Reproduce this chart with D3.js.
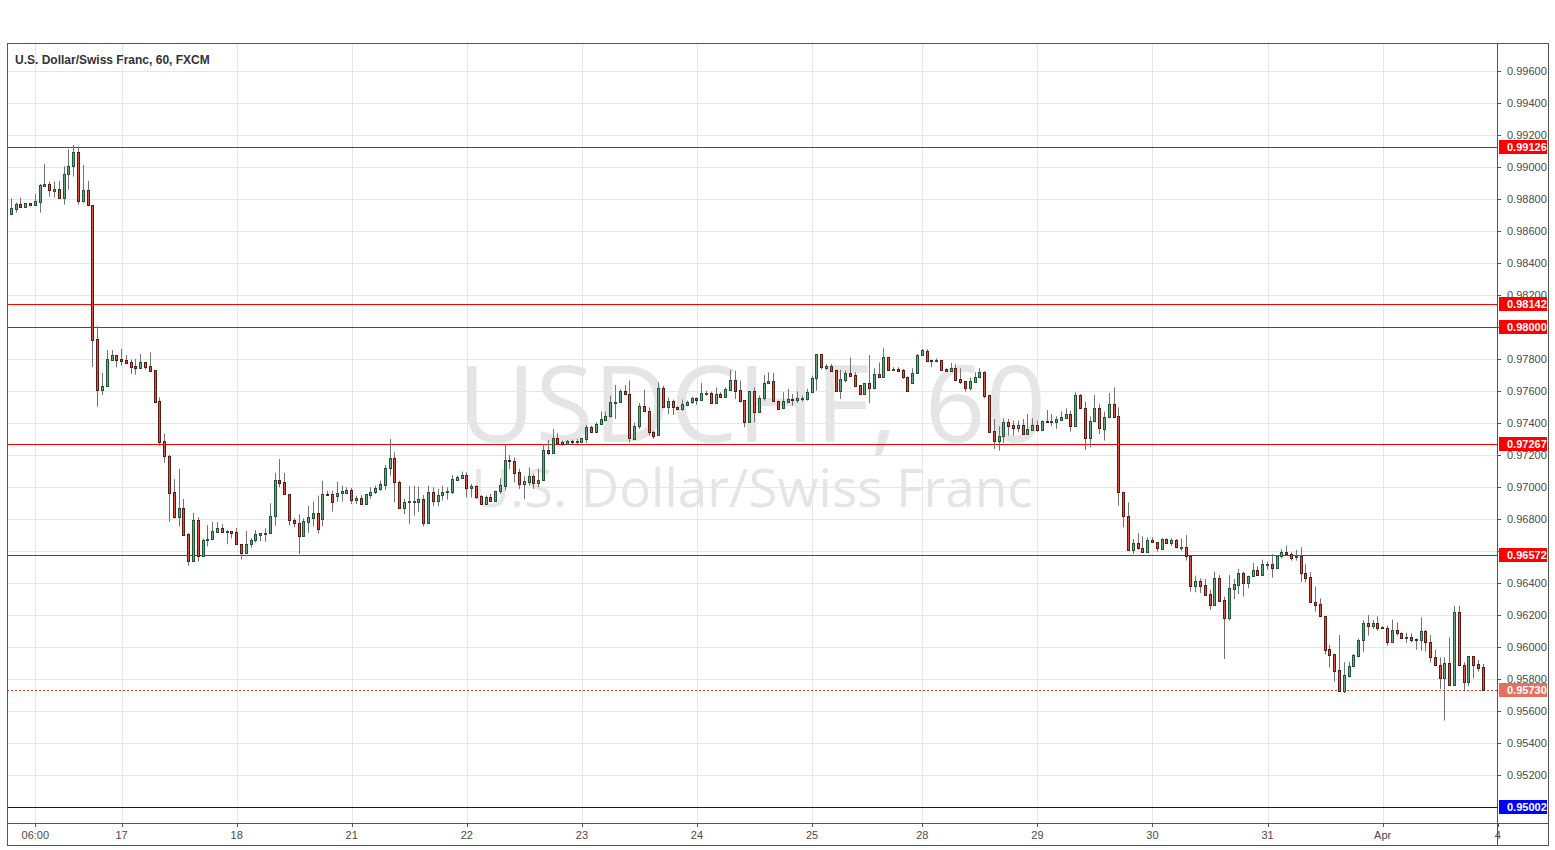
<!DOCTYPE html>
<html><head><meta charset="utf-8">
<script src="https://cdn.jsdelivr.net/npm/d3@7"></script>
<style>body{margin:0;background:#fff;overflow:hidden}svg{display:block}</style>
</head><body><svg id="c" width="1555" height="850"></svg>
<script>
// ---------- DATA (USD/CHF, 60 min, FXCM) ----------
const openP=[0.98708,0.98740,0.98767,0.98752,0.98773,0.98760,0.98783,0.98883,0.98892,0.98852,0.98860,0.98808,0.98954,0.99004,0.99092,0.98790,0.98854,0.98760,0.97923,0.97608,
0.97629,0.97796,0.97823,0.97800,0.97794,0.97781,0.97754,0.97746,0.97779,0.97754,0.97729,0.97535,0.97285,0.97192,0.96967,0.96815,0.96867,0.96704,0.96535,0.96792,
0.96571,0.96667,0.96673,0.96721,0.96742,0.96717,0.96725,0.96717,0.96642,0.96590,0.96642,0.96667,0.96702,0.96706,0.96710,0.96817,0.97042,0.97029,0.96954,0.96794,
0.96773,0.96696,0.96783,0.96808,0.96838,0.96798,0.96956,0.96954,0.96946,0.96960,0.96965,0.96979,0.96921,0.96931,0.96892,0.96952,0.96967,0.96990,0.97015,0.97117,
0.97179,0.97029,0.96871,0.96904,0.96908,0.96908,0.96923,0.96777,0.96967,0.96915,0.96950,0.96967,0.96971,0.97044,0.97058,0.97075,0.96992,0.97004,0.96942,0.96892,
0.96935,0.96915,0.96973,0.97008,0.97169,0.97160,0.97092,0.97017,0.97033,0.97071,0.97023,0.97044,0.97231,0.97210,0.97304,0.97281,0.97267,0.97288,0.97283,0.97283,
0.97300,0.97373,0.97346,0.97392,0.97421,0.97442,0.97525,0.97529,0.97598,0.97581,0.97300,0.97379,0.97504,0.97473,0.97342,0.97325,0.97617,0.97498,0.97535,0.97498,
0.97485,0.97515,0.97529,0.97554,0.97546,0.97583,0.97587,0.97527,0.97579,0.97565,0.97608,0.97669,0.97606,0.97544,0.97408,0.97600,0.97470,0.97554,0.97648,0.97660,
0.97540,0.97492,0.97533,0.97550,0.97546,0.97548,0.97550,0.97592,0.97679,0.97831,0.97746,0.97754,0.97731,0.97602,0.97671,0.97712,0.97700,0.97637,0.97579,0.97650,
0.97621,0.97706,0.97690,0.97810,0.97735,0.97738,0.97729,0.97685,0.97648,0.97712,0.97825,0.97852,0.97794,0.97790,0.97794,0.97735,0.97727,0.97742,0.97673,0.97660,
0.97621,0.97658,0.97685,0.97717,0.97575,0.97350,0.97290,0.97321,0.97404,0.97387,0.97367,0.97387,0.97329,0.97358,0.97387,0.97358,0.97412,0.97406,0.97408,0.97421,
0.97431,0.97456,0.97379,0.97575,0.97492,0.97304,0.97410,0.97492,0.97363,0.97435,0.97519,0.97442,0.96971,0.96817,0.96608,0.96650,0.96619,0.96592,0.96667,0.96654,
0.96613,0.96675,0.96650,0.96669,0.96621,0.96623,0.96567,0.96383,0.96410,0.96387,0.96329,0.96265,0.96429,0.96292,0.96179,0.96363,0.96390,0.96463,0.96398,0.96442,
0.96481,0.96452,0.96517,0.96519,0.96496,0.96567,0.96592,0.96579,0.96560,0.96567,0.96460,0.96435,0.96281,0.96267,0.96192,0.95987,0.95954,0.95854,0.95727,0.95821,
0.95879,0.95946,0.96044,0.96148,0.96133,0.96148,0.96125,0.96117,0.96029,0.96108,0.96088,0.96054,0.96060,0.96048,0.96042,0.96102,0.96029,0.95935,0.95888,0.95804,
0.95898,0.95763,0.96217,0.95888,0.95783,0.95942,0.95892,0.95873];
const highP=[0.98804,0.98779,0.98810,0.98773,0.98773,0.98831,0.98894,0.99019,0.98908,0.98910,0.98913,0.99004,0.99113,0.99138,0.99129,0.99013,0.98913,0.98760,0.98004,0.97713,
0.97856,0.97856,0.97825,0.97863,0.97825,0.97796,0.97800,0.97831,0.97779,0.97842,0.97729,0.97560,0.97335,0.97202,0.97050,0.97113,0.96925,0.96712,0.96838,0.96810,
0.96679,0.96762,0.96783,0.96781,0.96767,0.96729,0.96725,0.96744,0.96642,0.96725,0.96681,0.96731,0.96710,0.96742,0.96898,0.97088,0.97175,0.97088,0.96954,0.96806,
0.96829,0.96804,0.96883,0.96908,0.96946,0.97038,0.96977,0.96977,0.97033,0.97008,0.96998,0.96994,0.96946,0.96950,0.96954,0.96998,0.97008,0.97040,0.97137,0.97300,
0.97217,0.97040,0.96925,0.97004,0.97008,0.97004,0.96950,0.97008,0.96998,0.96988,0.97008,0.96998,0.97075,0.97071,0.97096,0.97092,0.97019,0.97012,0.96950,0.96946,
0.96956,0.96977,0.97054,0.97269,0.97200,0.97185,0.97113,0.97067,0.97123,0.97081,0.97113,0.97269,0.97294,0.97362,0.97337,0.97290,0.97294,0.97296,0.97300,0.97304,
0.97387,0.97383,0.97404,0.97473,0.97471,0.97571,0.97637,0.97612,0.97637,0.97665,0.97404,0.97525,0.97608,0.97498,0.97352,0.97654,0.97633,0.97560,0.97546,0.97504,
0.97546,0.97540,0.97563,0.97560,0.97650,0.97602,0.97596,0.97623,0.97592,0.97623,0.97731,0.97727,0.97665,0.97544,0.97600,0.97623,0.97571,0.97700,0.97717,0.97712,
0.97540,0.97592,0.97613,0.97581,0.97598,0.97571,0.97613,0.97696,0.97831,0.97831,0.97769,0.97769,0.97733,0.97733,0.97727,0.97810,0.97717,0.97637,0.97648,0.97825,
0.97742,0.97779,0.97867,0.97810,0.97748,0.97748,0.97738,0.97692,0.97742,0.97831,0.97862,0.97862,0.97796,0.97804,0.97794,0.97742,0.97775,0.97769,0.97742,0.97660,
0.97685,0.97717,0.97742,0.97723,0.97575,0.97425,0.97379,0.97429,0.97425,0.97415,0.97415,0.97425,0.97456,0.97429,0.97415,0.97415,0.97481,0.97456,0.97442,0.97473,
0.97492,0.97477,0.97592,0.97581,0.97533,0.97442,0.97575,0.97519,0.97471,0.97587,0.97623,0.97498,0.96971,0.96904,0.96675,0.96712,0.96692,0.96685,0.96685,0.96654,
0.96679,0.96679,0.96679,0.96675,0.96679,0.96700,0.96567,0.96446,0.96429,0.96425,0.96358,0.96471,0.96450,0.96315,0.96450,0.96425,0.96488,0.96471,0.96446,0.96525,
0.96504,0.96546,0.96533,0.96581,0.96575,0.96612,0.96633,0.96592,0.96606,0.96623,0.96519,0.96467,0.96379,0.96304,0.96192,0.96013,0.95954,0.96075,0.95904,0.95908,
0.95956,0.96054,0.96165,0.96200,0.96169,0.96192,0.96129,0.96133,0.96171,0.96154,0.96092,0.96088,0.96085,0.96054,0.96185,0.96108,0.96075,0.95983,0.95935,0.95935,
0.96060,0.96258,0.96258,0.95904,0.95942,0.95942,0.95919,0.95894];
const lowP=[0.98700,0.98715,0.98744,0.98752,0.98754,0.98760,0.98715,0.98877,0.98815,0.98808,0.98802,0.98765,0.98858,0.98940,0.98765,0.98777,0.98760,0.97750,0.97502,0.97575,
0.97629,0.97788,0.97748,0.97758,0.97777,0.97706,0.97702,0.97746,0.97733,0.97725,0.97527,0.97258,0.97152,0.96783,0.96804,0.96752,0.96702,0.96508,0.96535,0.96535,
0.96567,0.96629,0.96673,0.96717,0.96717,0.96642,0.96679,0.96642,0.96546,0.96585,0.96621,0.96652,0.96660,0.96658,0.96710,0.96758,0.96998,0.96954,0.96760,0.96748,
0.96581,0.96696,0.96713,0.96754,0.96710,0.96754,0.96950,0.96846,0.96908,0.96908,0.96960,0.96894,0.96894,0.96888,0.96888,0.96925,0.96956,0.96977,0.96981,0.97071,
0.96904,0.96869,0.96831,0.96769,0.96821,0.96846,0.96754,0.96777,0.96879,0.96879,0.96915,0.96921,0.96956,0.97040,0.97050,0.96935,0.96935,0.96925,0.96892,0.96892,
0.96915,0.96915,0.96956,0.96977,0.97113,0.97029,0.96988,0.96925,0.97008,0.96988,0.96998,0.97040,0.97200,0.97206,0.97269,0.97258,0.97263,0.97267,0.97267,0.97279,
0.97275,0.97342,0.97342,0.97387,0.97415,0.97435,0.97425,0.97525,0.97579,0.97279,0.97300,0.97363,0.97467,0.97321,0.97300,0.97321,0.97492,0.97456,0.97450,0.97483,
0.97477,0.97504,0.97519,0.97513,0.97546,0.97571,0.97523,0.97527,0.97560,0.97560,0.97608,0.97550,0.97529,0.97373,0.97404,0.97404,0.97470,0.97540,0.97644,0.97540,
0.97488,0.97488,0.97533,0.97508,0.97525,0.97533,0.97540,0.97592,0.97602,0.97733,0.97733,0.97727,0.97596,0.97550,0.97654,0.97692,0.97633,0.97575,0.97575,0.97523,
0.97613,0.97685,0.97685,0.97733,0.97727,0.97727,0.97675,0.97596,0.97644,0.97710,0.97821,0.97790,0.97748,0.97779,0.97733,0.97721,0.97723,0.97671,0.97644,0.97596,
0.97602,0.97654,0.97679,0.97554,0.97342,0.97238,0.97227,0.97275,0.97321,0.97321,0.97342,0.97329,0.97325,0.97352,0.97346,0.97358,0.97408,0.97379,0.97363,0.97415,
0.97425,0.97346,0.97379,0.97492,0.97233,0.97248,0.97404,0.97331,0.97290,0.97429,0.97440,0.96883,0.96748,0.96608,0.96581,0.96608,0.96592,0.96592,0.96654,0.96596,
0.96608,0.96644,0.96633,0.96617,0.96602,0.96540,0.96346,0.96342,0.96337,0.96327,0.96233,0.96265,0.96290,0.95925,0.96165,0.96300,0.96331,0.96315,0.96367,0.96442,
0.96452,0.96446,0.96483,0.96433,0.96496,0.96554,0.96571,0.96540,0.96540,0.96404,0.96404,0.96279,0.96221,0.96192,0.95954,0.95873,0.95783,0.95727,0.95712,0.95810,
0.95873,0.95935,0.95967,0.96071,0.96113,0.96100,0.96113,0.96008,0.96029,0.96071,0.96054,0.96025,0.96029,0.95983,0.95977,0.95971,0.95904,0.95888,0.95738,0.95540,
0.95763,0.95763,0.95883,0.95721,0.95754,0.95804,0.95846,0.95730];
const closeP=[0.98742,0.98767,0.98752,0.98773,0.98760,0.98788,0.98885,0.98894,0.98854,0.98862,0.98808,0.98954,0.99004,0.99092,0.98790,0.98854,0.98760,0.97921,0.97608,0.97629,
0.97798,0.97825,0.97796,0.97790,0.97777,0.97752,0.97746,0.97779,0.97752,0.97725,0.97533,0.97283,0.97192,0.96965,0.96815,0.96867,0.96702,0.96535,0.96792,0.96571,
0.96667,0.96675,0.96723,0.96742,0.96717,0.96725,0.96715,0.96642,0.96590,0.96642,0.96669,0.96704,0.96710,0.96710,0.96817,0.97042,0.97027,0.96954,0.96792,0.96773,
0.96696,0.96788,0.96810,0.96838,0.96738,0.96954,0.96950,0.96908,0.96963,0.96973,0.96981,0.96921,0.96931,0.96892,0.96954,0.96971,0.96994,0.97019,0.97119,0.97181,
0.97029,0.96869,0.96904,0.96910,0.96912,0.96923,0.96777,0.96967,0.96915,0.96950,0.96967,0.96973,0.97050,0.97060,0.97075,0.96992,0.97006,0.96940,0.96892,0.96935,
0.96915,0.96973,0.97012,0.97169,0.97160,0.97088,0.97017,0.97035,0.97071,0.97023,0.97044,0.97231,0.97210,0.97304,0.97275,0.97267,0.97288,0.97283,0.97290,0.97304,
0.97373,0.97346,0.97394,0.97425,0.97446,0.97529,0.97533,0.97598,0.97579,0.97304,0.97379,0.97508,0.97473,0.97342,0.97321,0.97619,0.97498,0.97535,0.97498,0.97485,
0.97519,0.97529,0.97554,0.97546,0.97585,0.97587,0.97527,0.97579,0.97565,0.97612,0.97669,0.97602,0.97540,0.97408,0.97600,0.97467,0.97554,0.97650,0.97662,0.97540,
0.97488,0.97537,0.97550,0.97546,0.97556,0.97554,0.97596,0.97679,0.97831,0.97748,0.97758,0.97727,0.97602,0.97675,0.97712,0.97696,0.97633,0.97579,0.97648,0.97621,
0.97706,0.97690,0.97810,0.97733,0.97740,0.97727,0.97685,0.97598,0.97712,0.97827,0.97856,0.97790,0.97788,0.97794,0.97733,0.97725,0.97744,0.97671,0.97658,0.97621,
0.97660,0.97685,0.97717,0.97571,0.97346,0.97290,0.97321,0.97404,0.97383,0.97367,0.97387,0.97329,0.97363,0.97387,0.97358,0.97410,0.97408,0.97410,0.97425,0.97435,
0.97456,0.97379,0.97577,0.97492,0.97304,0.97410,0.97492,0.97367,0.97435,0.97519,0.97440,0.96971,0.96817,0.96608,0.96650,0.96617,0.96592,0.96667,0.96654,0.96617,
0.96675,0.96650,0.96667,0.96623,0.96625,0.96567,0.96383,0.96410,0.96383,0.96327,0.96265,0.96429,0.96290,0.96179,0.96367,0.96394,0.96463,0.96398,0.96442,0.96481,
0.96452,0.96519,0.96521,0.96496,0.96567,0.96592,0.96579,0.96558,0.96567,0.96460,0.96433,0.96279,0.96265,0.96192,0.95983,0.95952,0.95852,0.95727,0.95825,0.95879,
0.95950,0.96044,0.96148,0.96133,0.96148,0.96121,0.96117,0.96029,0.96108,0.96085,0.96054,0.96060,0.96046,0.96042,0.96102,0.96029,0.95935,0.95888,0.95804,0.95898,
0.95763,0.96217,0.95888,0.95783,0.95942,0.95890,0.95871,0.95730];

// time axis: candle index of each label
const xTickIdx=[5,23,47,71,95,119,143,167,190,214,238,262,286,310];
const xTickLabels=["06:00","17","18","21","22","23","24","25","28","29","30","31","Apr","4"];
// price axis ticks
const yTicks=[0.952,0.954,0.956,0.958,0.960,0.962,0.964,0.966,0.968,0.970,0.972,0.974,0.976,0.978,0.980,0.982,0.984,0.986,0.988,0.990,0.992,0.994,0.996];
// horizontal levels drawn on chart
const levelValues=[0.99126,0.98142,0.98000,0.97267,0.96572,0.95002];
const lastPrice=0.95730;
const titleText="U.S. Dollar/Swiss Franc, 60, FXCM";
const wmSymbol="USDCHF, 60";
const wmName="U.S. Dollar/Swiss Franc";

// ---------- STYLE / LAYOUT ----------
const L=7,R=1497,T=43,B=823,W=1548,H=845;
const levelColors=["#ff0000","#ff0000","#ff0000","#ff0000","#ff0000","#1a1a1a"];
const levelLabelBg=["#ff0000","#ff0000","#ff0000","#ff0000","#ff0000","#0000ff"];
const upFill="#6ba583",upBorder="#225437",dnFill="#d75442",dnBorder="#5b1a13",wickCol="#737375";
const font="'Liberation Sans', Arial, sans-serif";

const svg=d3.select("#c");
const x=d3.scaleLinear().domain([-0.9,309.85]).range([L,R]);
const y=d3.scaleLinear().domain([0.952,0.996]).range([775,71]);
const px=v=>Math.round(v)+0.5;

svg.append("rect").attr("width",1555).attr("height",850).attr("fill","#fff");

svg.append("clipPath").attr("id","plot").append("rect").attr("x",L).attr("y",T).attr("width",R-L).attr("height",B-T);
const plot=svg.append("g").attr("clip-path","url(#plot)");

// grid
plot.append("g").selectAll("line").data(yTicks).join("line")
  .attr("x1",L).attr("x2",R).attr("y1",d=>px(y(d))).attr("y2",d=>px(y(d)))
  .attr("stroke","#e6e6e6").attr("stroke-width",1);
plot.append("g").selectAll("line").data(xTickIdx).join("line")
  .attr("y1",T).attr("y2",B).attr("x1",d=>px(x(d))).attr("x2",d=>px(x(d)))
  .attr("stroke","#e6e6e6").attr("stroke-width",1);

// watermark
plot.append("text").attr("x",752).attr("y",442).attr("text-anchor","middle")
  .attr("font-family","'Open Sans', 'Liberation Sans', sans-serif").attr("font-size",106).attr("fill","#e5e5e5").text(wmSymbol);
plot.append("text").attr("x",752).attr("y",507).attr("text-anchor","middle")
  .attr("font-family","'Open Sans', 'Liberation Sans', sans-serif").attr("font-size",53).attr("fill","#e5e5e5").text(wmName);

// levels
plot.append("g").selectAll("line").data(levelValues).join("line")
  .attr("x1",L).attr("x2",R).attr("y1",d=>px(y(d))).attr("y2",d=>px(y(d)))
  .attr("stroke",(d,i)=>levelColors[i]).attr("stroke-width",1);
plot.append("line").attr("x1",L).attr("x2",R).attr("y1",px(y(lastPrice))).attr("y2",px(y(lastPrice)))
  .attr("stroke","#f2361f").attr("stroke-width",1).attr("stroke-dasharray","2,2");

// candles
const idx=d3.range(openP.length);
const cg=plot.append("g");
cg.selectAll("line").data(idx).join("line")
  .attr("x1",i=>Math.floor(x(i))+0.5).attr("x2",i=>Math.floor(x(i))+0.5)
  .attr("y1",i=>y(highP[i])).attr("y2",i=>y(lowP[i]))
  .attr("stroke",wickCol).attr("stroke-width",1);
cg.selectAll("rect").data(idx).join("rect")
  .attr("x",i=>Math.floor(x(i))-0.5).attr("width",2)
  .attr("y",i=>Math.round(y(Math.max(openP[i],closeP[i])))+0.5)
  .attr("height",i=>Math.max(1,Math.round(y(Math.min(openP[i],closeP[i])))-Math.round(y(Math.max(openP[i],closeP[i])))))
  .attr("fill",i=>closeP[i]>=openP[i]?upFill:dnFill)
  .attr("stroke",i=>closeP[i]>=openP[i]?upBorder:dnBorder).attr("stroke-width",1);

// title
svg.append("text").attr("x",15).attr("y",64).attr("font-family",font).attr("font-size",12)
  .attr("font-weight","bold").attr("fill","#333").text(titleText);

// price labels (tick labels hidden where a price label covers them)
const pl=levelValues.map((v,i)=>({v,bg:levelLabelBg[i]})).concat([{v:lastPrice,bg:"#e8705f"}]);
const covered=d=>pl.some(p=>Math.abs(y(p.v)-y(d))<9);

// right axis
const ra=svg.append("g");
ra.selectAll("line").data(yTicks).join("line")
  .attr("x1",R).attr("x2",R+4).attr("y1",d=>px(y(d))).attr("y2",d=>px(y(d))).attr("stroke","#555");
ra.selectAll("text").data(yTicks.filter(d=>!covered(d))).join("text")
  .attr("x",1507).attr("y",d=>y(d)+4).attr("font-family",font).attr("font-size",11).attr("fill","#4a4a4a")
  .text(d=>d3.format(".5f")(d));

// bottom axis
const ba=svg.append("g");
ba.selectAll("line").data(xTickIdx).join("line")
  .attr("x1",d=>px(x(d))).attr("x2",d=>px(x(d))).attr("y1",B).attr("y2",B+4).attr("stroke","#555");
ba.selectAll("text").data(xTickIdx).join("text")
  .attr("x",d=>x(d)).attr("y",839).attr("text-anchor","middle").attr("font-family",font).attr("font-size",11).attr("fill","#4a4a4a")
  .text((d,i)=>xTickLabels[i]);

const plg=svg.append("g").selectAll("g").data(pl).join("g");
plg.append("rect").attr("x",R+2).attr("y",d=>Math.round(y(d.v))-7).attr("width",W-R-3).attr("height",14).attr("fill",d=>d.bg);
plg.append("text").attr("x",1507).attr("y",d=>Math.round(y(d.v))+4).attr("font-family",font).attr("font-size",11)
  .attr("font-weight","bold").attr("fill","#fff").text(d=>d3.format(".5f")(d.v));

// frame
svg.append("rect").attr("x",L+0.5).attr("y",T+0.5).attr("width",W-L).attr("height",H-T).attr("fill","none").attr("stroke","#555");
svg.append("line").attr("x1",R+0.5).attr("x2",R+0.5).attr("y1",T).attr("y2",H).attr("stroke","#555");
svg.append("line").attr("x1",L).attr("x2",W).attr("y1",B+0.5).attr("y2",B+0.5).attr("stroke","#555");
</script></body></html>
